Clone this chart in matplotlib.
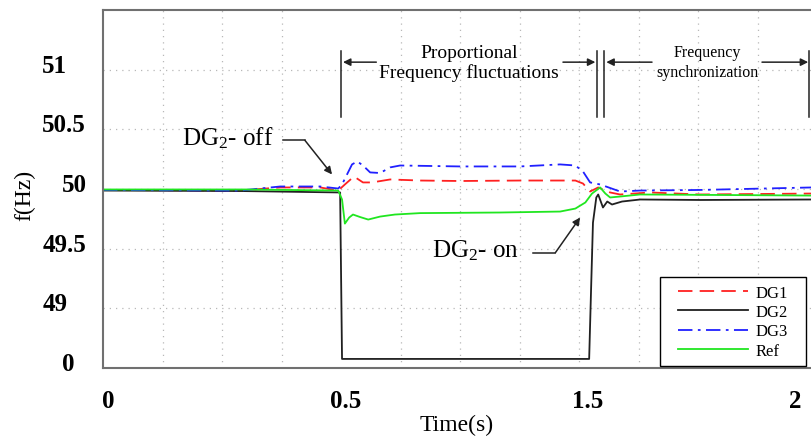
import matplotlib
matplotlib.use('Agg')
import matplotlib.pyplot as plt
from matplotlib.ticker import MultipleLocator
from matplotlib.transforms import ScaledTranslation

plt.rcParams['font.family'] = ['Liberation Serif', 'DejaVu Serif']
plt.rcParams['mathtext.fontset'] = 'custom'
plt.rcParams['mathtext.rm'] = 'Liberation Serif'
plt.rcParams['mathtext.it'] = 'Liberation Serif:italic'

# x is in plot units (grid every 0.125); the paper labels them 0, 0.5, 1.5, 2
# y is in Hz, the bottom row (48.5) is the broken "0" level
t_dg1 = [0, 0.288, 0.372, 0.456, 0.494, 0.508, 0.527, 0.546, 0.565, 0.603, 0.666,
         0.750, 0.876, 0.992, 1.008, 1.023, 1.040, 1.065, 1.086, 1.149, 1.254, 1.489]
f_dg1 = [49.992, 49.987, 50.013, 50.013, 49.987, 50.038, 50.105, 50.055, 50.055, 50.080, 50.071,
         50.067, 50.071, 50.071, 50.046, 49.979, 50.013, 49.971, 49.954, 49.971, 49.954, 49.962]

t_dg2 = [0, 0.288, 0.498, 0.502, 1.021, 1.025, 1.029, 1.036, 1.040, 1.050, 1.059,
         1.069, 1.090, 1.128, 1.254, 1.489]
f_dg2 = [49.987, 49.983, 49.971, 48.576, 48.576, 49.155, 49.718, 49.929, 49.954, 49.845, 49.895,
         49.870, 49.895, 49.912, 49.908, 49.912]

t_dg3 = [0, 0.288, 0.372, 0.456, 0.494, 0.502, 0.523, 0.534, 0.546, 0.561, 0.582, 0.603,
         0.624, 0.750, 0.876, 0.960, 0.992, 1.008, 1.023, 1.044, 1.086, 1.128, 1.254, 1.489]
f_dg3 = [49.992, 49.987, 50.021, 50.021, 50.004, 50.038, 50.206, 50.231, 50.197, 50.139, 50.134, 50.181,
         50.197, 50.189, 50.189, 50.206, 50.197, 50.147, 50.055, 50.038, 49.979, 49.987, 49.992, 50.013]

t_ref = [0, 0.30, 0.494, 0.502, 0.508, 0.517, 0.525, 0.540, 0.557, 0.582, 0.613, 0.666,
         0.834, 0.960, 0.992, 1.013, 1.027, 1.044, 1.055, 1.065, 1.086, 1.128, 1.489]
f_ref = [49.996, 49.996, 49.987, 49.912, 49.710, 49.761, 49.786, 49.765, 49.744, 49.769, 49.786, 49.798,
         49.803, 49.811, 49.836, 49.887, 49.962, 50.013, 49.962, 49.929, 49.937, 49.954, 49.945]

xtick_pos = [0, 0.5, 1.008, 1.443]
xtick_lab = ['0', '0.5', '1.5', '2']
ytick_pos = [48.5, 49, 49.5, 50, 50.5, 51]
ytick_lab = ['0', '49', '49.5', '50', '50.5', '51']

# phase brackets
bracket_x = [0.5, 1.038, 1.053, 1.483]
bracket_y = [50.60, 51.155]
arrow_y = 51.063
arrows = [(0.574, 0.504), (0.966, 1.034), (1.153, 1.057), (1.384, 1.481)]

fig = plt.figure(figsize=(8.12, 4.39), dpi=100)
ax = fig.add_axes([103/812, 70/439, 709/812, 358/439])

ax.plot(t_dg1, f_dg1, color='#ff2020', lw=1.3, dashes=(8, 4), label='DG1')
ax.plot(t_dg2, f_dg2, color='#202020', lw=1.3, label='DG2')
ax.plot(t_dg3, f_dg3, color='#2020ff', lw=1.3, dashes=(8, 3, 1.5, 3), label='DG3')
ax.plot(t_ref, f_ref, color='#20e620', lw=1.3, label='Ref')

ax.set_xlim(0, 1.489)
ax.set_ylim(48.5, 51.5)

ax.set_xticks(xtick_pos, xtick_lab)
ax.set_yticks(ytick_pos, ytick_lab)
ax.xaxis.set_minor_locator(MultipleLocator(0.125))
ax.xaxis.grid(True, which='minor', color='#b8b8b8', lw=0.9, linestyle=(0, (1, 4)))
ax.yaxis.grid(True, which='major', color='#b8b8b8', lw=0.9, linestyle=(0, (1, 4)))
ax.tick_params(which='both', length=0)
ax.tick_params(axis='x', pad=15, labelsize=18)
ax.tick_params(axis='y', pad=0, labelsize=18)

for lab in ax.get_xticklabels():
    lab.set_fontweight('bold')
    lab.set_transform(lab.get_transform() + ScaledTranslation(0.05, 0, fig.dpi_scale_trans))
# the y labels in the source are not aligned consistently
y_left = [-41, -60, -60, -41, -61, -61]
for lab, dx in zip(ax.get_yticklabels(), y_left):
    lab.set_fontweight('bold')
    lab.set_horizontalalignment('left')
    lab.set_transform(ax.get_yaxis_transform() + ScaledTranslation(dx/100, 0.07, fig.dpi_scale_trans))

for s in ['left', 'bottom', 'top']:
    ax.spines[s].set_color('#707070')
    ax.spines[s].set_linewidth(1.5)
ax.spines['right'].set_visible(False)

ax.set_xlabel('Time(s)', fontsize=17)
ax.xaxis.set_label_coords(0.499, -0.128)
ax.set_ylabel('f(Hz)', fontsize=17)
ax.yaxis.set_label_coords(-0.096, 0.486)

for x in bracket_x:
    ax.plot([x, x], bracket_y, color='#222222', lw=1.1)
for x0, x1 in arrows:
    ax.annotate('', xy=(x1, arrow_y), xytext=(x0, arrow_y),
                arrowprops=dict(arrowstyle='-|>', color='#222222', lw=1.1,
                                mutation_scale=11, shrinkA=0, shrinkB=0))

ax.text(0.769, 51.060, 'Proportional\nFrequency fluctuations', ha='center', va='center',
        fontsize=14, linespacing=1.2)
ax.text(1.269, 51.065, 'Frequency\nsynchronization', ha='center', va='center',
        fontsize=11.5, linespacing=1.35)

ax.text(0.2616, 50.433, 'DG$_2$- off', ha='center', va='center', fontsize=18)
ax.plot([0.378, 0.424], [50.408, 50.408], color='#222222', lw=1.1)
ax.annotate('', xy=(0.481, 50.122), xytext=(0.424, 50.408),
            arrowprops=dict(arrowstyle='-|>', color='#222222', lw=1.1,
                            mutation_scale=11, shrinkA=0, shrinkB=0))

ax.text(0.7815, 49.492, 'DG$_2$- on', ha='center', va='center', fontsize=18)
ax.plot([0.903, 0.950], [49.466, 49.466], color='#222222', lw=1.1)
ax.annotate('', xy=(1.002, 49.761), xytext=(0.950, 49.466),
            arrowprops=dict(arrowstyle='-|>', color='#222222', lw=1.1,
                            mutation_scale=11, shrinkA=0, shrinkB=0))

leg = ax.legend(loc='upper left', bbox_to_anchor=(672/812, 1 - 280/439),
                bbox_transform=fig.transFigure, fancybox=False, edgecolor='black',
                framealpha=1, fontsize=12, handlelength=4.2, handletextpad=0.45,
                borderpad=0.35, labelspacing=0.2, borderaxespad=0)
# wider side margins than top/bottom, as in the source
leg.get_frame().set_boxstyle('square', pad=0.72)
leg.get_frame().set_mutation_aspect(0.15)
leg.get_frame().set_linewidth(1.0)

fig.savefig('out.png', dpi=100)
